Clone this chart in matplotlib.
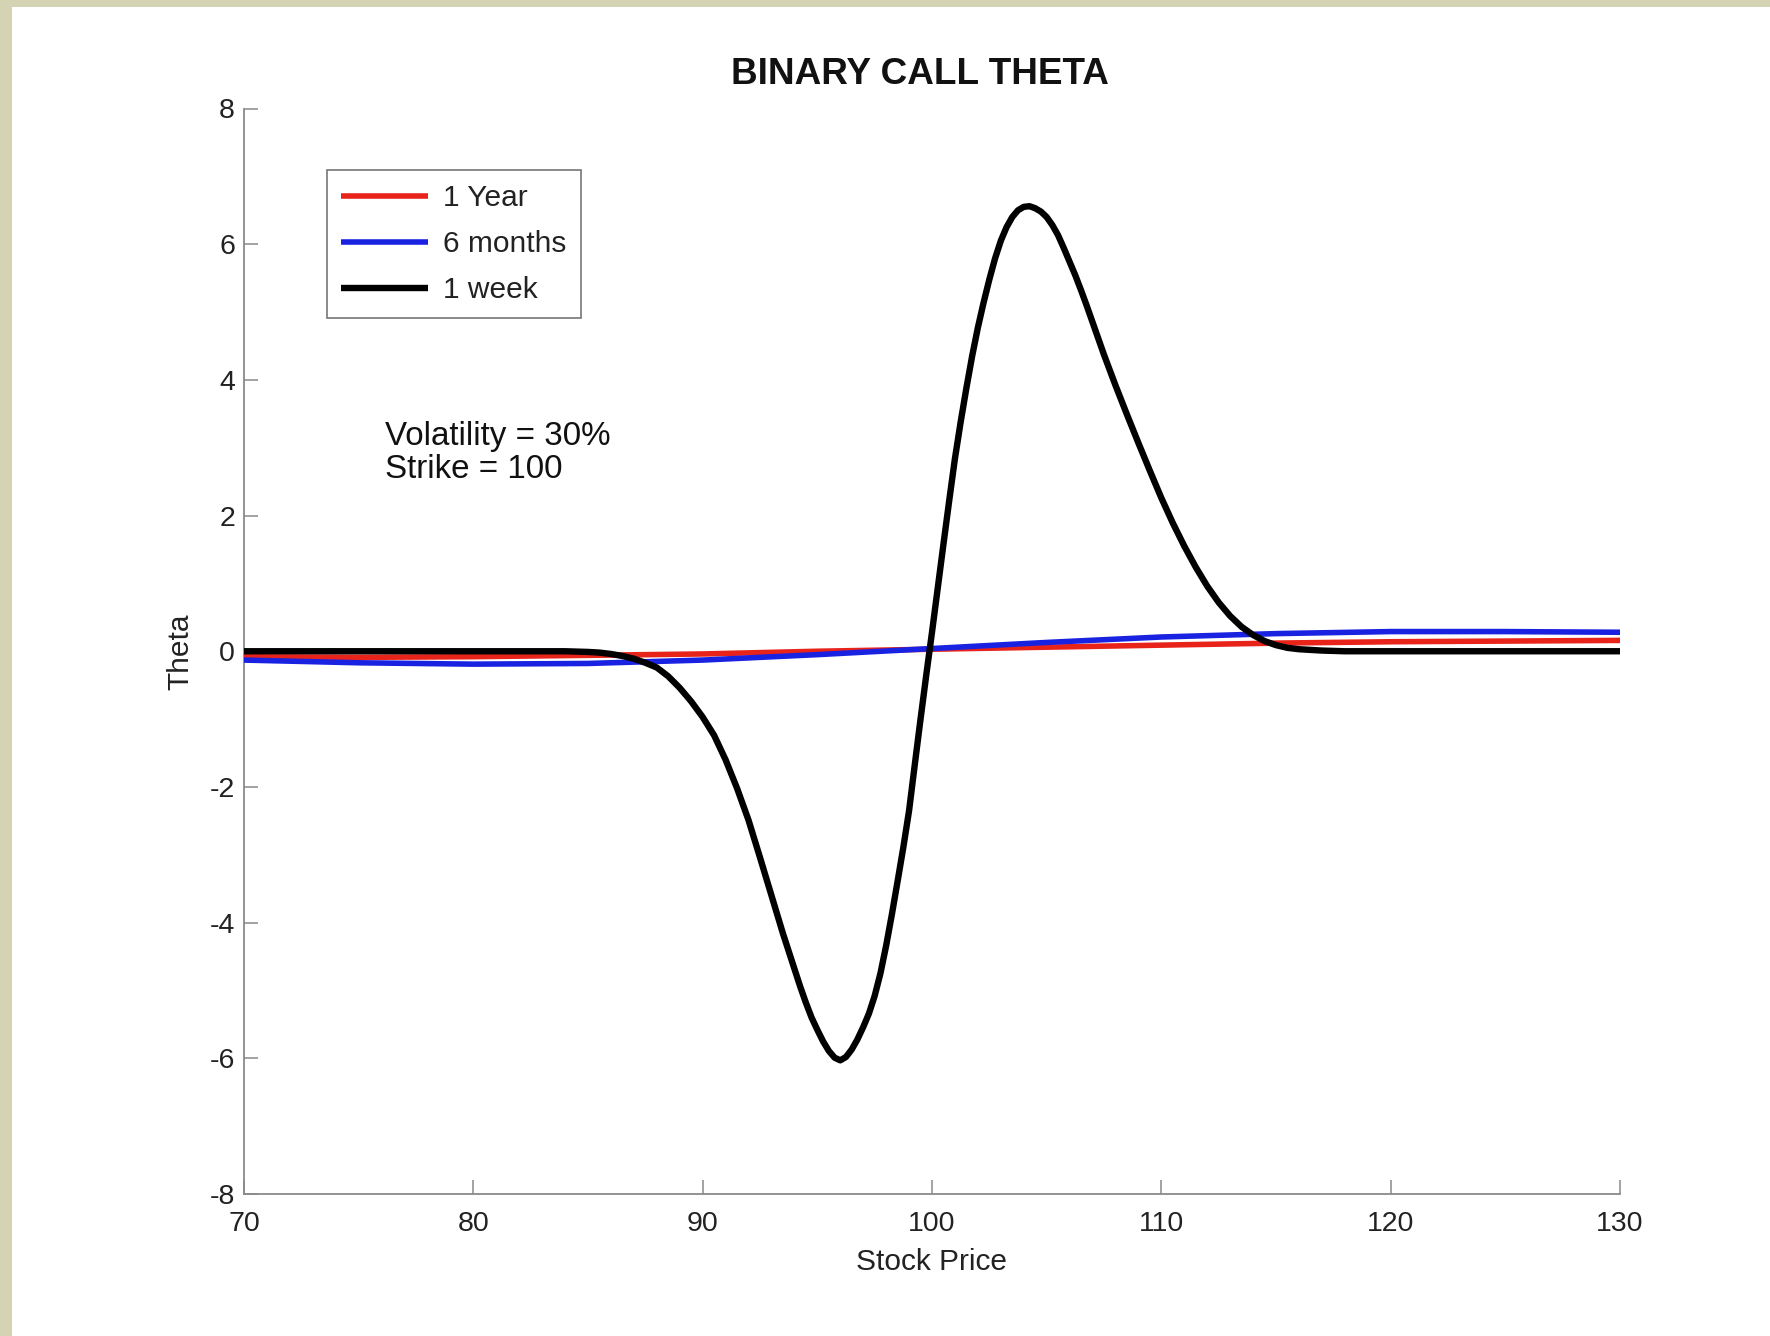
import matplotlib
matplotlib.use("Agg")
import matplotlib.pyplot as plt
from matplotlib.patches import Rectangle

plt.rcParams['font.family'] = ['Liberation Sans', 'DejaVu Sans']

# ---- data ----
price_year = [70, 75, 80, 85, 90, 95, 100, 105, 110, 115, 120, 125, 130]
theta_year = [-0.08, -0.09, -0.08, -0.06, -0.04, 0.0, 0.03, 0.06, 0.09, 0.12, 0.14, 0.15, 0.16]

price_6m = [70, 75, 80, 85, 90, 95, 100, 105, 110, 115, 120, 125, 130]
theta_6m = [-0.13, -0.17, -0.19, -0.18, -0.13, -0.05, 0.04, 0.13, 0.21, 0.26, 0.29, 0.29, 0.28]

price_week = [70, 75, 80, 84, 85, 85.5, 86, 86.5, 87, 87.5, 88, 88.5, 89, 89.5, 90,
              90.5, 91, 91.5, 92, 92.5, 93, 93.5, 94, 94.25, 94.5, 94.75, 95, 95.25,
              95.5, 95.75, 96, 96.25, 96.5, 96.75, 97, 97.25, 97.5, 97.75, 98, 98.25,
              98.5, 98.75, 99, 99.25, 99.5, 99.75, 100, 100.25, 100.5, 100.75, 101,
              101.25, 101.5, 101.75, 102, 102.25, 102.5, 102.75, 103, 103.25, 103.5,
              103.75, 104, 104.25, 104.5, 104.75, 105, 105.25, 105.5, 105.75, 106,
              106.25, 106.5, 106.75, 107, 107.25, 107.5, 108, 108.5, 109, 109.5, 110,
              110.5, 111, 111.5, 112, 112.5, 113, 113.5, 114, 114.5, 115, 115.5, 116,
              117, 118, 120, 125, 130]
theta_week = [0, 0, 0, 0, -0.01, -0.02, -0.04, -0.07, -0.11, -0.17, -0.24, -0.37, -0.54, -0.74, -0.97,
              -1.24, -1.60, -2.02, -2.49, -3.04, -3.60, -4.16, -4.68, -4.94, -5.18, -5.40, -5.58, -5.75,
              -5.89, -5.99, -6.03, -5.98, -5.87, -5.72, -5.54, -5.34, -5.08, -4.75, -4.34, -3.88,
              -3.39, -2.89, -2.35, -1.67, -1.00, -0.35, 0.28, 0.93, 1.58, 2.22, 2.84,
              3.38, 3.88, 4.35, 4.77, 5.14, 5.48, 5.79, 6.05, 6.25, 6.40,
              6.50, 6.55, 6.56, 6.53, 6.48, 6.40, 6.28, 6.13, 5.94, 5.74,
              5.54, 5.32, 5.09, 4.85, 4.61, 4.37, 3.92, 3.49, 3.07, 2.66, 2.26,
              1.89, 1.55, 1.24, 0.96, 0.72, 0.52, 0.36, 0.24, 0.15, 0.09, 0.05, 0.03,
              0.01, 0.0, 0.0, 0.0, 0.0]

series_labels = ["1 Year", "6 months", "1 week"]
x_ticks = [70, 80, 90, 100, 110, 120, 130]
y_ticks = [-8, -6, -4, -2, 0, 2, 4, 6, 8]

W, H = 1770, 1336
fig = plt.figure(figsize=(W / 100, H / 100), dpi=100)
fig.patch.set_facecolor("white")

beige = "#d4d3b3"
fig.patches.append(Rectangle((0, 0), 12 / W, 1, transform=fig.transFigure,
                             facecolor=beige, edgecolor="none", zorder=-10))
fig.patches.append(Rectangle((0, 1 - 7 / H), 1, 7 / H, transform=fig.transFigure,
                             facecolor=beige, edgecolor="none", zorder=-10))

ax_l, ax_r, ax_t, ax_b = 244, 1620, 108.5, 1194
ax = fig.add_axes([ax_l / W, 1 - ax_b / H, (ax_r - ax_l) / W, (ax_b - ax_t) / H])

ax.plot(price_year, theta_year, color="#e8231a", lw=4.0, label=series_labels[0],
        zorder=3, solid_joinstyle="round", solid_capstyle="butt")
ax.plot(price_6m, theta_6m, color="#1a22e2", lw=4.0, label=series_labels[1],
        zorder=4, solid_joinstyle="round", solid_capstyle="butt")
ax.plot(price_week, theta_week, color="black", lw=4.6, label=series_labels[2],
        zorder=5, solid_joinstyle="round", solid_capstyle="butt")

ax.set_xlim(70, 130)
ax.set_ylim(-8, 8)
ax.set_xticks(x_ticks)
ax.set_yticks(y_ticks)
ax.set_xticklabels([str(t) for t in x_ticks])
ax.set_yticklabels([str(t) for t in y_ticks])

for s in ["top", "right"]:
    ax.spines[s].set_visible(False)
for s in ["left", "bottom"]:
    ax.spines[s].set_color("#8a8a8a")
    ax.spines[s].set_linewidth(1.3)

ax.tick_params(axis="both", direction="in", length=10, width=1.1, color="#8a8a8a",
               labelsize=20.5, labelcolor="#222222")
ax.tick_params(axis="x", pad=12)
ax.tick_params(axis="y", pad=6.5)

ax.set_xlabel("Stock Price", fontsize=21.5, color="#222222")
ax.set_ylabel("Theta", fontsize=21.5, color="#222222")
ax.xaxis.set_label_coords(0.5, -(1248 - ax_b) / (ax_b - ax_t))
ax.yaxis.set_label_coords((194.5 - ax_l) / (ax_r - ax_l), 0.5)

fig.text(920 / W, 1 - 74.5 / H, "BINARY CALL THETA", fontsize=26.6, fontweight="bold",
         ha="center", va="center", color="#111111")

ax.text(76.15, 2.92, "Volatility = 30%\nStrike = 100", fontsize=23.9,
        ha="left", va="center", linespacing=1.1, color="#111111")

leg = ax.legend(loc="upper left", bbox_to_anchor=(327 / W, 1 - 170 / H),
                bbox_transform=fig.transFigure, fontsize=21.5, frameon=True,
                fancybox=False, framealpha=1, edgecolor="#777777",
                borderpad=0.48, labelspacing=0.6, handlelength=2.9,
                handletextpad=0.5, borderaxespad=0)
leg.get_frame().set_linewidth(1.2)
for t in leg.get_texts():
    t.set_color("#222222")

fig.savefig("out.png", dpi=100, facecolor=fig.get_facecolor())
